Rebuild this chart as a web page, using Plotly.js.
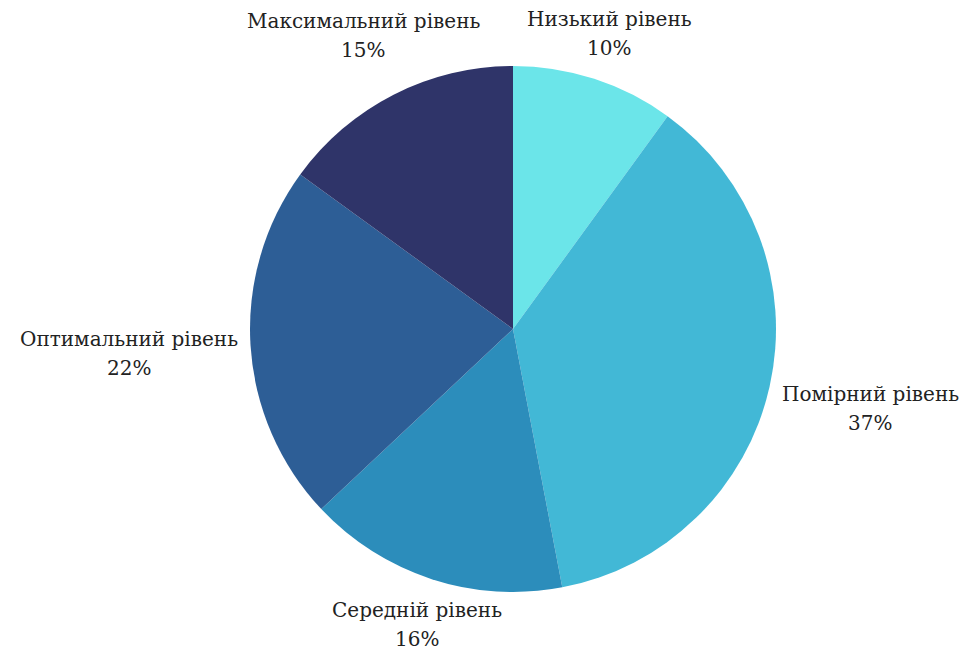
<!DOCTYPE html>
<html><head><meta charset="utf-8">
<script src="https://cdn.plot.ly/plotly-3.0.1.min.js"></script>
<style>html,body{margin:0;padding:0;background:#fff}</style>
</head><body>
<div id="chart" style="width:974px;height:655px"></div>
<script>
var labels = ["Низький рівень", "Помірний рівень", "Середній рівень", "Оптимальний рівень", "Максимальний рівень"];
var values = [10, 37, 16, 22, 15];
var colors = ["#6be5e9", "#42b8d6", "#2c8dbb", "#2d5e96", "#2f3469"];

var FONT = "DejaVu Serif";
var FONT_SIZE = 20;
var TEXT_COLOR = "#222";
var GAP = 12;        // distance between pie edge and nearest point of a label box
var LINE_GAP = 29;   // distance between the two label lines
var BOX_H = 42;

var gd = document.getElementById("chart");

Plotly.newPlot(gd, [{
  type: "pie",
  labels: labels,
  values: values,
  sort: false,
  direction: "clockwise",
  rotation: 0,
  marker: {colors: colors, line: {width: 0}},
  textinfo: "none",
  hoverinfo: "label+percent",
  showlegend: false
}], {
  width: 974, height: 655,
  margin: {l: 52, r: 0, t: 66, b: 63},
  paper_bgcolor: "#fff",
  showlegend: false
}, {displayModeBar: false, staticPlot: true}).then(function () {
  var s = gd._fullLayout._size;
  var cd0 = gd.calcdata && gd.calcdata[0] && gd.calcdata[0][0];
  var cx = (cd0 && cd0.cx != null) ? cd0.cx : s.l + s.w / 2;
  var cy = (cd0 && cd0.cy != null) ? cd0.cy : s.t + s.h / 2;
  var R = (cd0 && cd0.r) ? cd0.r : Math.min(s.w, s.h) / 2;

  var ctx = document.createElement("canvas").getContext("2d");
  ctx.font = FONT_SIZE + 'px "' + FONT + '"';

  var total = values.reduce(function (a, b) { return a + b; }, 0);
  var cum = 0;
  var anns = [];
  values.forEach(function (v, i) {
    var mid = (cum + v / 2) / total * 2 * Math.PI;
    cum += v;
    var ux = Math.sin(mid), uy = -Math.cos(mid);
    var pct = Math.round(v / total * 100) + "%";
    var w = Math.max(ctx.measureText(labels[i]).width, ctx.measureText(pct).width);
    var lo = 0, hi = 2000;
    for (var k = 0; k < 60; k++) {
      var d = (lo + hi) / 2;
      var nx = Math.max(0, Math.abs(d * ux) - w / 2);
      var ny = Math.max(0, Math.abs(d * uy) - BOX_H / 2);
      if (Math.sqrt(nx * nx + ny * ny) < R + GAP) lo = d; else hi = d;
    }
    var px = cx + lo * ux, py = cy + lo * uy;
    var xp = (px - s.l) / s.w;
    var f = {family: FONT, size: FONT_SIZE, color: TEXT_COLOR};
    anns.push({xref: "paper", yref: "paper", x: xp, y: 1 - (py - LINE_GAP / 2 - s.t) / s.h,
      text: labels[i], showarrow: false, xanchor: "center", yanchor: "middle", font: f});
    anns.push({xref: "paper", yref: "paper", x: xp, y: 1 - (py + LINE_GAP / 2 - s.t) / s.h,
      text: pct, showarrow: false, xanchor: "center", yanchor: "middle", font: f});
  });
  return Plotly.relayout(gd, {annotations: anns});
});
</script>
</body></html>
